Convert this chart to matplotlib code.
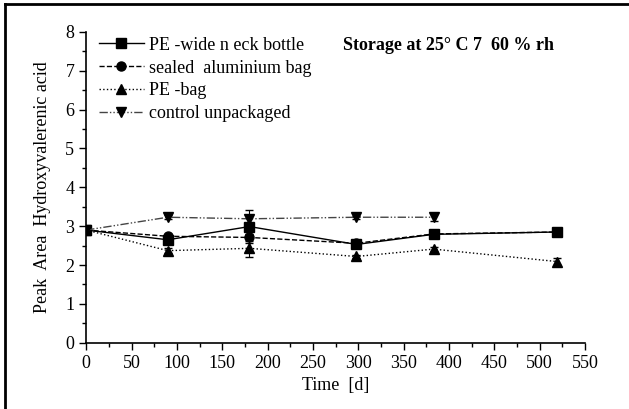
import matplotlib
matplotlib.use('Agg')
import matplotlib.pyplot as plt
from matplotlib.ticker import MultipleLocator
from matplotlib.lines import Line2D

plt.rcParams['font.family'] = ['Liberation Serif', 'DejaVu Serif']

## data
days = [0, 90, 180, 298, 383, 519]
bottle = [2.9, 2.65, 2.99, 2.53, 2.79, 2.85]
bottle_err = [0, 0.05, 0.43, 0.04, 0.05, 0.04]
alu = [2.9, 2.74, 2.71, 2.56, 2.8, 2.85]
alu_err = [0, 0.05, 0.1, 0.04, 0.04, 0.05]
pebag = [2.9, 2.37, 2.43, 2.22, 2.41, 2.09]
pebag_err = [0, 0.06, 0.23, 0.05, 0.05, 0.1]
control_days = [0, 90, 180, 298, 383]
control = [2.9, 3.23, 3.19, 3.23, 3.23]
control_err = [0, 0.05, 0.1, 0.04, 0.1]

labels = ['PE -wide n eck bottle', 'sealed  aluminium bag', 'PE -bag', 'control unpackaged']

fig = plt.figure(figsize=(6.29, 4.09), dpi=100)
ax = fig.add_axes([0.137, 0.162, 0.793, 0.76])

ms = 6.5
dashdot = (0, (6, 1.5, 1, 1.5, 1, 1.5))
styles = [('-', 's', 'black'), ('--', 'o', 'black'), (':', '^', 'black'), (dashdot, 'v', '#444444')]
series = [(days, bottle, bottle_err), (days, alu, alu_err),
          (days, pebag, pebag_err), (control_days, control, control_err)]

handles = []
for (x, y, e), (ls, mk, lc) in zip(series, styles):
    ax.errorbar(x, y, yerr=e, color=lc, ls=ls, lw=1.0, marker=mk, ms=ms,
                mfc='black', mec='black', ecolor='black', capsize=3, elinewidth=0.8)
    handles.append(Line2D([], [], color=lc, ls=ls, lw=1.0, marker=mk, ms=ms,
                          mfc='black', mec='black'))

ax.set_xlim(0, 550)
ax.set_ylim(0, 8)
ax.xaxis.set_major_locator(MultipleLocator(50))
ax.xaxis.set_minor_locator(MultipleLocator(25))
ax.yaxis.set_major_locator(MultipleLocator(1))
ax.yaxis.set_minor_locator(MultipleLocator(0.5))
ax.tick_params(which='both', direction='out', labelsize=13, width=1)
ax.tick_params(which='major', length=5)
ax.tick_params(which='minor', length=3)
for s in ['top', 'right']:
    ax.spines[s].set_visible(False)
for s in ['left', 'bottom']:
    ax.spines[s].set_linewidth(1.2)

ax.set_xlabel('Time  [d]', fontsize=13)
ax.set_ylabel('Peak  Area  Hydroxyvalerenic acid', fontsize=13, labelpad=10)

ax.legend(handles, labels, loc='upper left', bbox_to_anchor=(0.0, 1.025),
          frameon=False, fontsize=13, handlelength=2.5, handletextpad=0.3,
          labelspacing=0.32, borderaxespad=0.3)

ax.text(0.515, 0.955, 'Storage at 25° C 7  60 % rh', transform=ax.transAxes,
        fontsize=13, fontweight='bold', va='center', ha='left')

# frame lines (left and top only visible in the source)
fig.add_artist(Line2D([0.008, 0.008], [0.0, 0.99], transform=fig.transFigure,
                      color='black', lw=2))
fig.add_artist(Line2D([0.008, 1.0], [0.99, 0.99], transform=fig.transFigure,
                      color='black', lw=2))

fig.savefig('out.png', dpi=100)
